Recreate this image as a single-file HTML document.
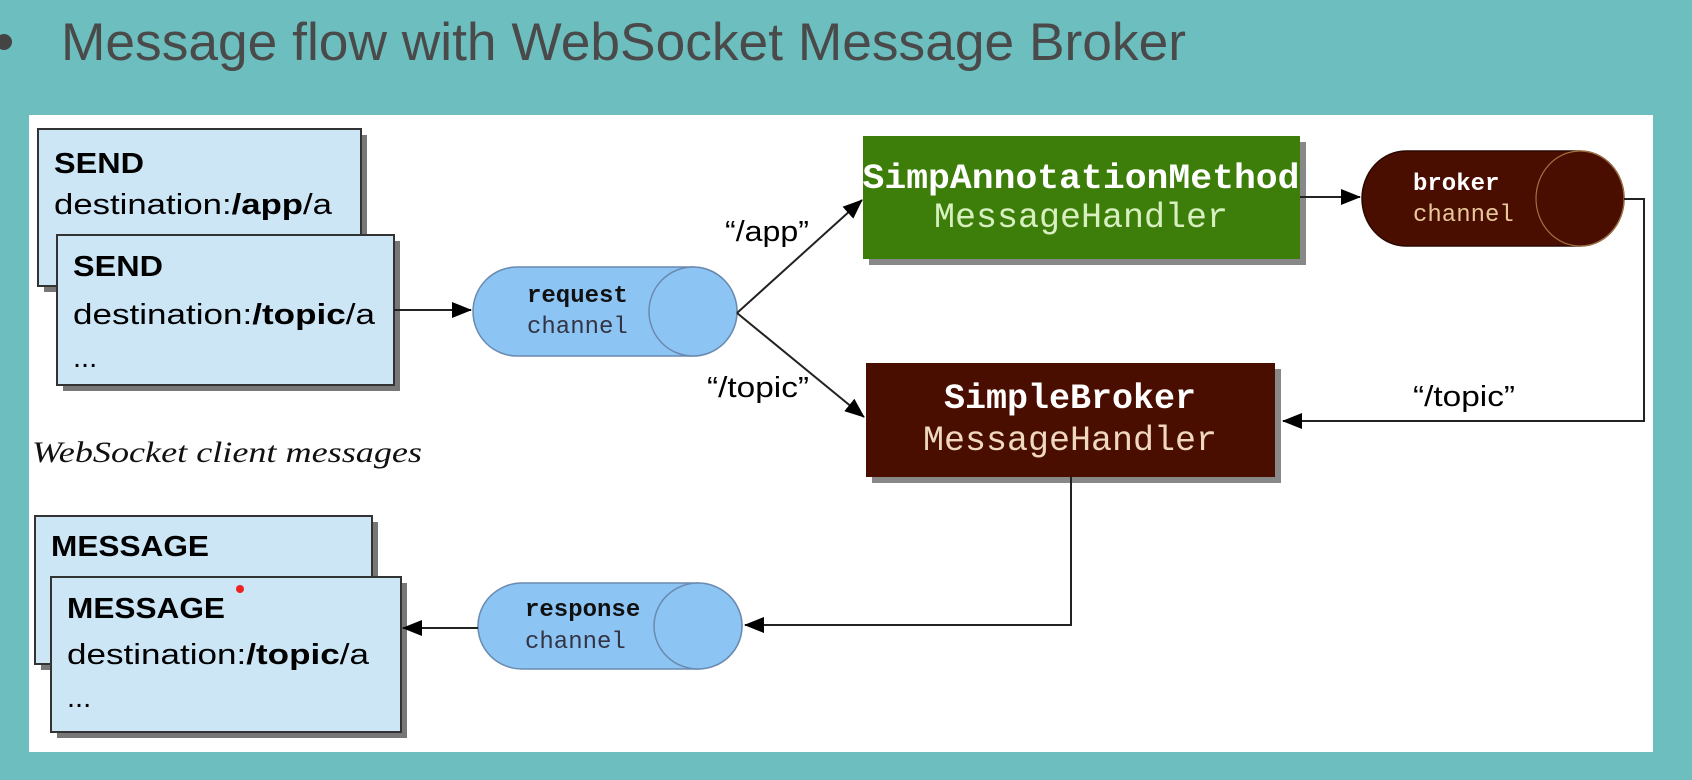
<!DOCTYPE html>
<html><head><meta charset="utf-8"><style>
html,body{margin:0;padding:0;width:1692px;height:780px;overflow:hidden;background:#6dbfbf}
svg{display:block}
.h{font-family:"Liberation Sans",sans-serif;font-weight:bold;font-size:29px;fill:#000}
.n{font-family:"Liberation Sans",sans-serif;font-size:29px;fill:#000}
.m{font-family:"Liberation Mono",monospace}
</style></head><body>
<svg width="1692" height="780" viewBox="0 0 1692 780">
<defs>
<marker id="a" markerWidth="20" markerHeight="16" refX="19" refY="8" orient="auto" markerUnits="userSpaceOnUse">
<path d="M0,0 L20,8 L0,16 z" fill="#000"/></marker>
</defs>
<rect x="0" y="0" width="1692" height="780" fill="#6dbfbf"/>
<circle cx="4" cy="42" r="8" fill="#444"/>
<text x="61" y="60" font-family="Liberation Sans, sans-serif" font-size="53" fill="#4a4a4a" textLength="1125" lengthAdjust="spacingAndGlyphs">Message flow with WebSocket Message Broker</text>
<rect x="29" y="115" width="1624" height="637" fill="#fff"/>

<!-- SEND boxes -->
<rect x="44" y="135" width="323" height="157" fill="#777"/>
<rect x="38" y="129" width="323" height="157" fill="#cce6f6" stroke="#333" stroke-width="2"/>
<text class="h" x="54" y="173" textLength="90" lengthAdjust="spacingAndGlyphs">SEND</text>
<text class="n" x="54" y="214" textLength="278" lengthAdjust="spacingAndGlyphs">destination:<tspan font-weight="bold">/app</tspan>/a</text>
<rect x="63" y="241" width="337" height="150" fill="#777"/>
<rect x="57" y="235" width="337" height="150" fill="#cce6f6" stroke="#333" stroke-width="2"/>
<text class="h" x="73" y="276" textLength="90" lengthAdjust="spacingAndGlyphs">SEND</text>
<text class="n" x="73" y="324" textLength="302" lengthAdjust="spacingAndGlyphs">destination:<tspan font-weight="bold">/topic</tspan>/a</text>
<text class="n" x="73" y="367">...</text>

<text x="32" y="462" font-family="Liberation Serif, serif" font-style="italic" font-size="30" fill="#111" textLength="390" lengthAdjust="spacingAndGlyphs">WebSocket client messages</text>

<!-- MESSAGE boxes -->
<rect x="41" y="522" width="337" height="148" fill="#777"/>
<rect x="35" y="516" width="337" height="148" fill="#cce6f6" stroke="#333" stroke-width="2"/>
<text class="h" x="51" y="556" textLength="158" lengthAdjust="spacingAndGlyphs">MESSAGE</text>
<rect x="57" y="583" width="350" height="155" fill="#777"/>
<rect x="51" y="577" width="350" height="155" fill="#cce6f6" stroke="#333" stroke-width="2"/>
<text class="h" x="67" y="618" textLength="158" lengthAdjust="spacingAndGlyphs">MESSAGE</text>
<circle cx="240" cy="589" r="4" fill="#e22"/>
<text class="n" x="67" y="664" textLength="302" lengthAdjust="spacingAndGlyphs">destination:<tspan font-weight="bold">/topic</tspan>/a</text>
<text class="n" x="67" y="707">...</text>

<!-- request channel -->
<path d="M517,267 L693,267 A44,44.5 0 0 1 693,356 L517,356 A44,44.5 0 0 1 517,267 z" fill="#8cc4f4" stroke="#6a8ab0" stroke-width="1.5"/>
<ellipse cx="693" cy="311.5" rx="44" ry="44.5" fill="#8cc4f4" stroke="#6a8ab0" stroke-width="1.5"/>
<text x="527" y="302" class="m" font-weight="bold" font-size="24" fill="#111">request</text>
<text x="527" y="333" class="m" font-size="24" fill="#334">channel</text>

<!-- response channel -->
<path d="M522,583 L698,583 A44,43 0 0 1 698,669 L522,669 A44,43 0 0 1 522,583 z" fill="#8cc4f4" stroke="#6a8ab0" stroke-width="1.5"/>
<ellipse cx="698" cy="626" rx="44" ry="43" fill="#8cc4f4" stroke="#6a8ab0" stroke-width="1.5"/>
<text x="525" y="616" class="m" font-weight="bold" font-size="24" fill="#111">response</text>
<text x="525" y="648" class="m" font-size="24" fill="#334">channel</text>

<!-- broker channel -->
<path d="M1406,151 L1580,151 A44,47.5 0 0 1 1580,246 L1406,246 A44,47.5 0 0 1 1406,151 z" fill="#4a0e00" stroke="#2a0800" stroke-width="1.5"/>
<ellipse cx="1580" cy="198.5" rx="44" ry="47.5" fill="#4a0e00" stroke="#a07040" stroke-width="1.2"/>
<text x="1413" y="190" class="m" font-weight="bold" font-size="24" fill="#fff">broker</text>
<text x="1413" y="221" class="m" font-size="24" fill="#e8c89a">channel</text>

<!-- SimpAnnotation box -->
<rect x="869" y="142" width="437" height="123" fill="#888"/>
<rect x="863" y="136" width="437" height="123" fill="#3d7e0a"/>
<text x="1081" y="188" text-anchor="middle" class="m" font-weight="bold" font-size="35" fill="#fff" textLength="437" lengthAdjust="spacingAndGlyphs">SimpAnnotationMethod</text>
<text x="1081" y="227" text-anchor="middle" class="m" font-size="35" fill="#d8f0c0">MessageHandler</text>

<!-- SimpleBroker box -->
<rect x="872" y="369" width="409" height="114" fill="#888"/>
<rect x="866" y="363" width="409" height="114" fill="#4a0e00"/>
<text x="1070" y="408" text-anchor="middle" class="m" font-weight="bold" font-size="35" fill="#fff">SimpleBroker</text>
<text x="1070" y="450" text-anchor="middle" class="m" font-size="35" fill="#f0d8c0">MessageHandler</text>

<!-- connectors -->
<g stroke="#222" stroke-width="2" fill="none">
<line x1="394" y1="310" x2="471" y2="310" marker-end="url(#a)"/>
<line x1="737" y1="313" x2="862" y2="200" marker-end="url(#a)"/>
<line x1="737" y1="313" x2="864" y2="417" marker-end="url(#a)"/>
<line x1="1300" y1="197" x2="1360" y2="197" marker-end="url(#a)"/>
<polyline points="1624,199 1644,199 1644,421 1283,421" marker-end="url(#a)"/>
<polyline points="1071,477 1071,625 745,625" marker-end="url(#a)"/>
<line x1="478" y1="628" x2="403" y2="628" marker-end="url(#a)"/>
</g>
<text x="725" y="241" class="n" font-size="27" textLength="84" lengthAdjust="spacingAndGlyphs">“/app”</text>
<text x="707" y="397" class="n" font-size="27" textLength="102" lengthAdjust="spacingAndGlyphs">“/topic”</text>
<text x="1413" y="406" class="n" font-size="27" textLength="102" lengthAdjust="spacingAndGlyphs">“/topic”</text>
</svg>
</body></html>
